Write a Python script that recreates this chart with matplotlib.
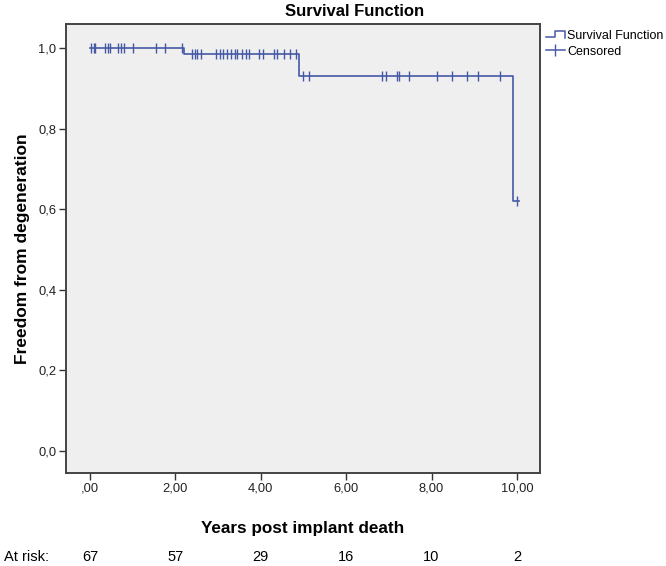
import matplotlib
matplotlib.use("Agg")
import matplotlib.pyplot as plt
from matplotlib.legend_handler import HandlerBase
from matplotlib.lines import Line2D

plt.rcParams["font.family"] = ["Liberation Sans", "DejaVu Sans"]

# Kaplan-Meier steps
step_times = [0.0, 2.2, 4.9, 9.9, 10.05]
step_surv = [1.0, 0.985, 0.93, 0.62, 0.62]

# censored observations per plateau
cens_100 = [0.02, 0.1, 0.13, 0.35, 0.42, 0.47, 0.65, 0.72, 0.8, 1.0,
            1.55, 1.75, 2.15]
cens_985 = [2.4, 2.45, 2.5, 2.6, 2.95, 3.05, 3.12, 3.2, 3.3, 3.4, 3.45,
            3.55, 3.65, 3.72, 3.95, 4.05, 4.3, 4.38, 4.55, 4.68, 4.82]
cens_930 = [4.99, 5.14, 6.84, 6.93, 7.19, 7.24, 7.47, 8.13, 8.48, 8.83,
            9.09, 9.6]
cens_620 = [10.0]

xticks = [0, 2, 4, 6, 8, 10]
xtick_labels = [",00", "2,00", "4,00", "6,00", "8,00", "10,00"]
yticks = [0.0, 0.2, 0.4, 0.6, 0.8, 1.0]
ytick_labels = ["0,0", "0,2", "0,4", "0,6", "0,8", "1,0"]
at_risk = [67, 57, 29, 16, 10, 2]

LINE = "#4558a5"


class HandlerStep(HandlerBase):
    def create_artists(self, legend, orig_handle, xdescent, ydescent,
                       width, height, fontsize, trans):
        x0, x1 = -xdescent, -xdescent + width
        ylo, yhi = -ydescent + 0.2 * height, -ydescent + 0.9 * height
        xm = x0 + 0.5 * width
        line = Line2D([x0, xm, xm, x1, x1], [ylo, ylo, yhi, yhi, ylo - 0.1 * height],
                      color=LINE, lw=1.1, transform=trans)
        return [line]


fig = plt.figure(figsize=(6.66, 5.66), dpi=100)
ax = fig.add_axes([66 / 666, 1 - 473 / 566, 474 / 666, 449 / 566])
ax.set_facecolor("#efefef")

ax.step(step_times, step_surv, where="post", color=LINE, lw=1.2)
for times, level in [(cens_100, 1.0), (cens_985, 0.985),
                     (cens_930, 0.93), (cens_620, 0.62)]:
    ax.plot(times, [level] * len(times), ls="none", marker="|",
            markersize=7, mew=1.0, color=LINE)

ax.set_xlim(-0.56, 10.54)
ax.set_ylim(-0.055, 1.06)
ax.set_xticks(xticks)
ax.set_xticklabels(xtick_labels)
ax.set_yticks(yticks)
ax.set_yticklabels(ytick_labels)
ax.tick_params(axis="both", labelsize=9.3, length=5, width=1.0,
               color="#333333", labelcolor="#222222", pad=2)

for side in ["left", "bottom", "right", "top"]:
    ax.spines[side].set_color("#444444")
    ax.spines[side].set_linewidth(1.4)

ax.set_ylabel("Freedom from degeneration", fontsize=12.5, fontweight="bold")
ax.yaxis.set_label_coords((30 - 66) / 474, 0.5)

fig.text(355 / 666, 1 - 12 / 566, "Survival Function", fontsize=12,
         fontweight="bold", ha="center", va="center")
fig.text(303 / 666, 1 - 529 / 566, "Years post implant death", fontsize=12.3,
         fontweight="bold", ha="center", va="center")

# numbers at risk under the x ticks
fig.text(4 / 666, 1 - 557 / 566, "At risk:", fontsize=10.5,
         ha="left", va="center")
for t, n in zip(xticks, at_risk):
    ax.annotate(str(n), xy=(t, 0), xycoords=("data", "figure fraction"),
                xytext=(0, 9), textcoords="offset pixels",
                fontsize=10.5, ha="center", va="center")

handles = [Line2D([], [], color=LINE),
           Line2D([], [], color=LINE, marker="|", markersize=9, lw=1.1)]
fig.legend(handles, ["Survival Function", "Censored"],
           handler_map={handles[0]: HandlerStep()},
           loc="upper left", bbox_to_anchor=(541 / 666, 1 - 25 / 566),
           frameon=False, fontsize=9, handlelength=1.5, handletextpad=0.2,
           borderaxespad=0, labelspacing=0.3)

fig.savefig("out.png", dpi=100)
